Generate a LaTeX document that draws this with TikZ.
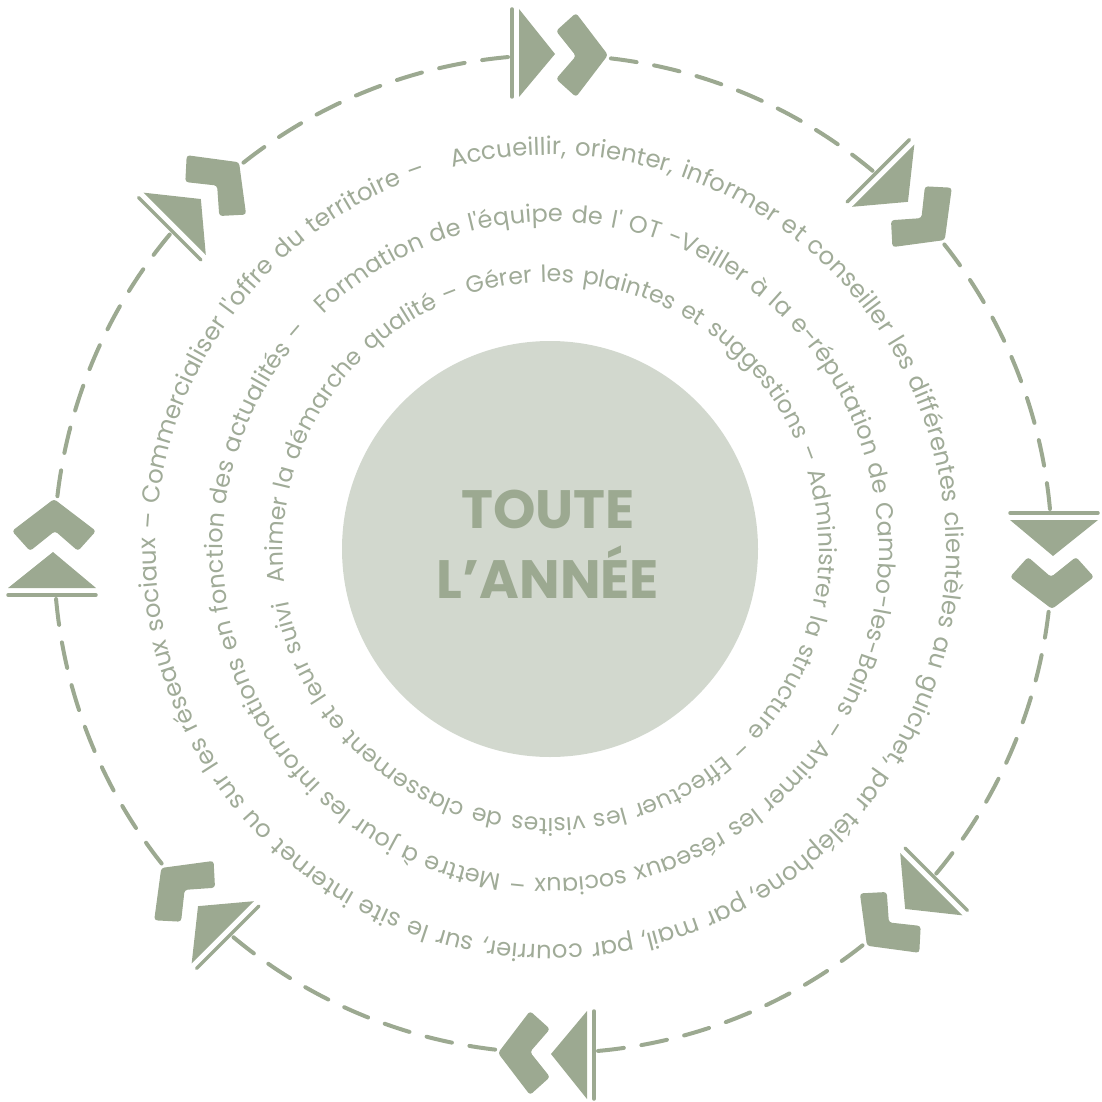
\documentclass[tikz,border=0pt]{standalone}
\usepackage{fontspec}
\setmainfont{Poppins}
\newfontfamily\ringfont{Poppins}
\usetikzlibrary{decorations.text}
\definecolor{sage}{HTML}{9CA991}
\definecolor{txt}{HTML}{A0AB98}
\definecolor{disc}{HTML}{D2D8CE}
\tikzset{
  ringtext/.style={decorate, decoration={text along path, text align={fit to path stretching spaces}, text={#1}}},
  dashline/.style={draw=sage, line width=4pt, line cap=round, dash pattern=on 26pt off 17.8pt},
  decofill/.style={fill=sage, draw=none},
  decobar/.style={draw=sage, line width=3.5pt, line cap=round},
}
\begin{document}
\begin{tikzpicture}[x=1pt,y=1pt]
\useasboundingbox (0,0) rectangle (1101,-1102);
% central disc and title
\node[circle, fill=disc, minimum size=416pt, inner sep=0pt] (disc) at (550,-549) {};
\node[font=\bfseries\fontsize{54}{70}\selectfont, text=sage, align=center] (title) at (548,-544) {TOUTE\\L'ANNÉE};
% decorations and dashed circle
\foreach \a in {90,45,0,-45,-90,-135,-180,-225} {
  \begin{scope}[shift={(553,-554)}, rotate=\a-90]
    \draw[decobar] (-41,545) -- (-41,457);
    \fill[decofill] (-34,545) -- (2,500) -- (-34,457) -- cycle;
    \fill[decofill, rounded corners=3pt] (23,541) -- (55,499) -- (23,457) -- (3,475) -- (23,498) -- (3,523) -- cycle;
  \end{scope}
  \draw[dashline] (553,-554) ++(\a-6.66:499pt) arc[start angle=\a-6.66, end angle=\a-39.83, radius=499pt];
}
% ring texts
\path[ringtext={|\ringfont\fontsize{24.4}{25}\selectfont\color{txt}|Accueillir, orienter, informer et conseiller les différentes clientèles au guichet, par téléphone, par mail, par courrier, sur le site internet ou sur les réseaux sociaux – Commercialiser l'offre du territoire –}]
  (551,-550) ++(104.5:395pt) arc[start angle=104.5, end angle=-251.5, radius=395pt];
\path[ringtext={|\ringfont\fontsize{24}{24}\selectfont\color{txt}|Formation de l'équipe de l' OT -Veiller à la e-réputation de Cambo-les-Bains – Animer les réseaux sociaux – Mettre à jour les informations en fonction des actualités –}]
  (551,-550) ++(134:328pt) arc[start angle=134, end angle=-222, radius=328pt];
\path[ringtext={|\ringfont\fontsize{23.6}{24}\selectfont\color{txt}|Animer la démarche qualité – Gérer les plaintes et suggestions – Administrer la structure – Effectuer les visites de classement et leur suivi}]
  (551,-550) ++(187:268pt) arc[start angle=187, end angle=-169, radius=268pt];
\end{tikzpicture}
\end{document}
